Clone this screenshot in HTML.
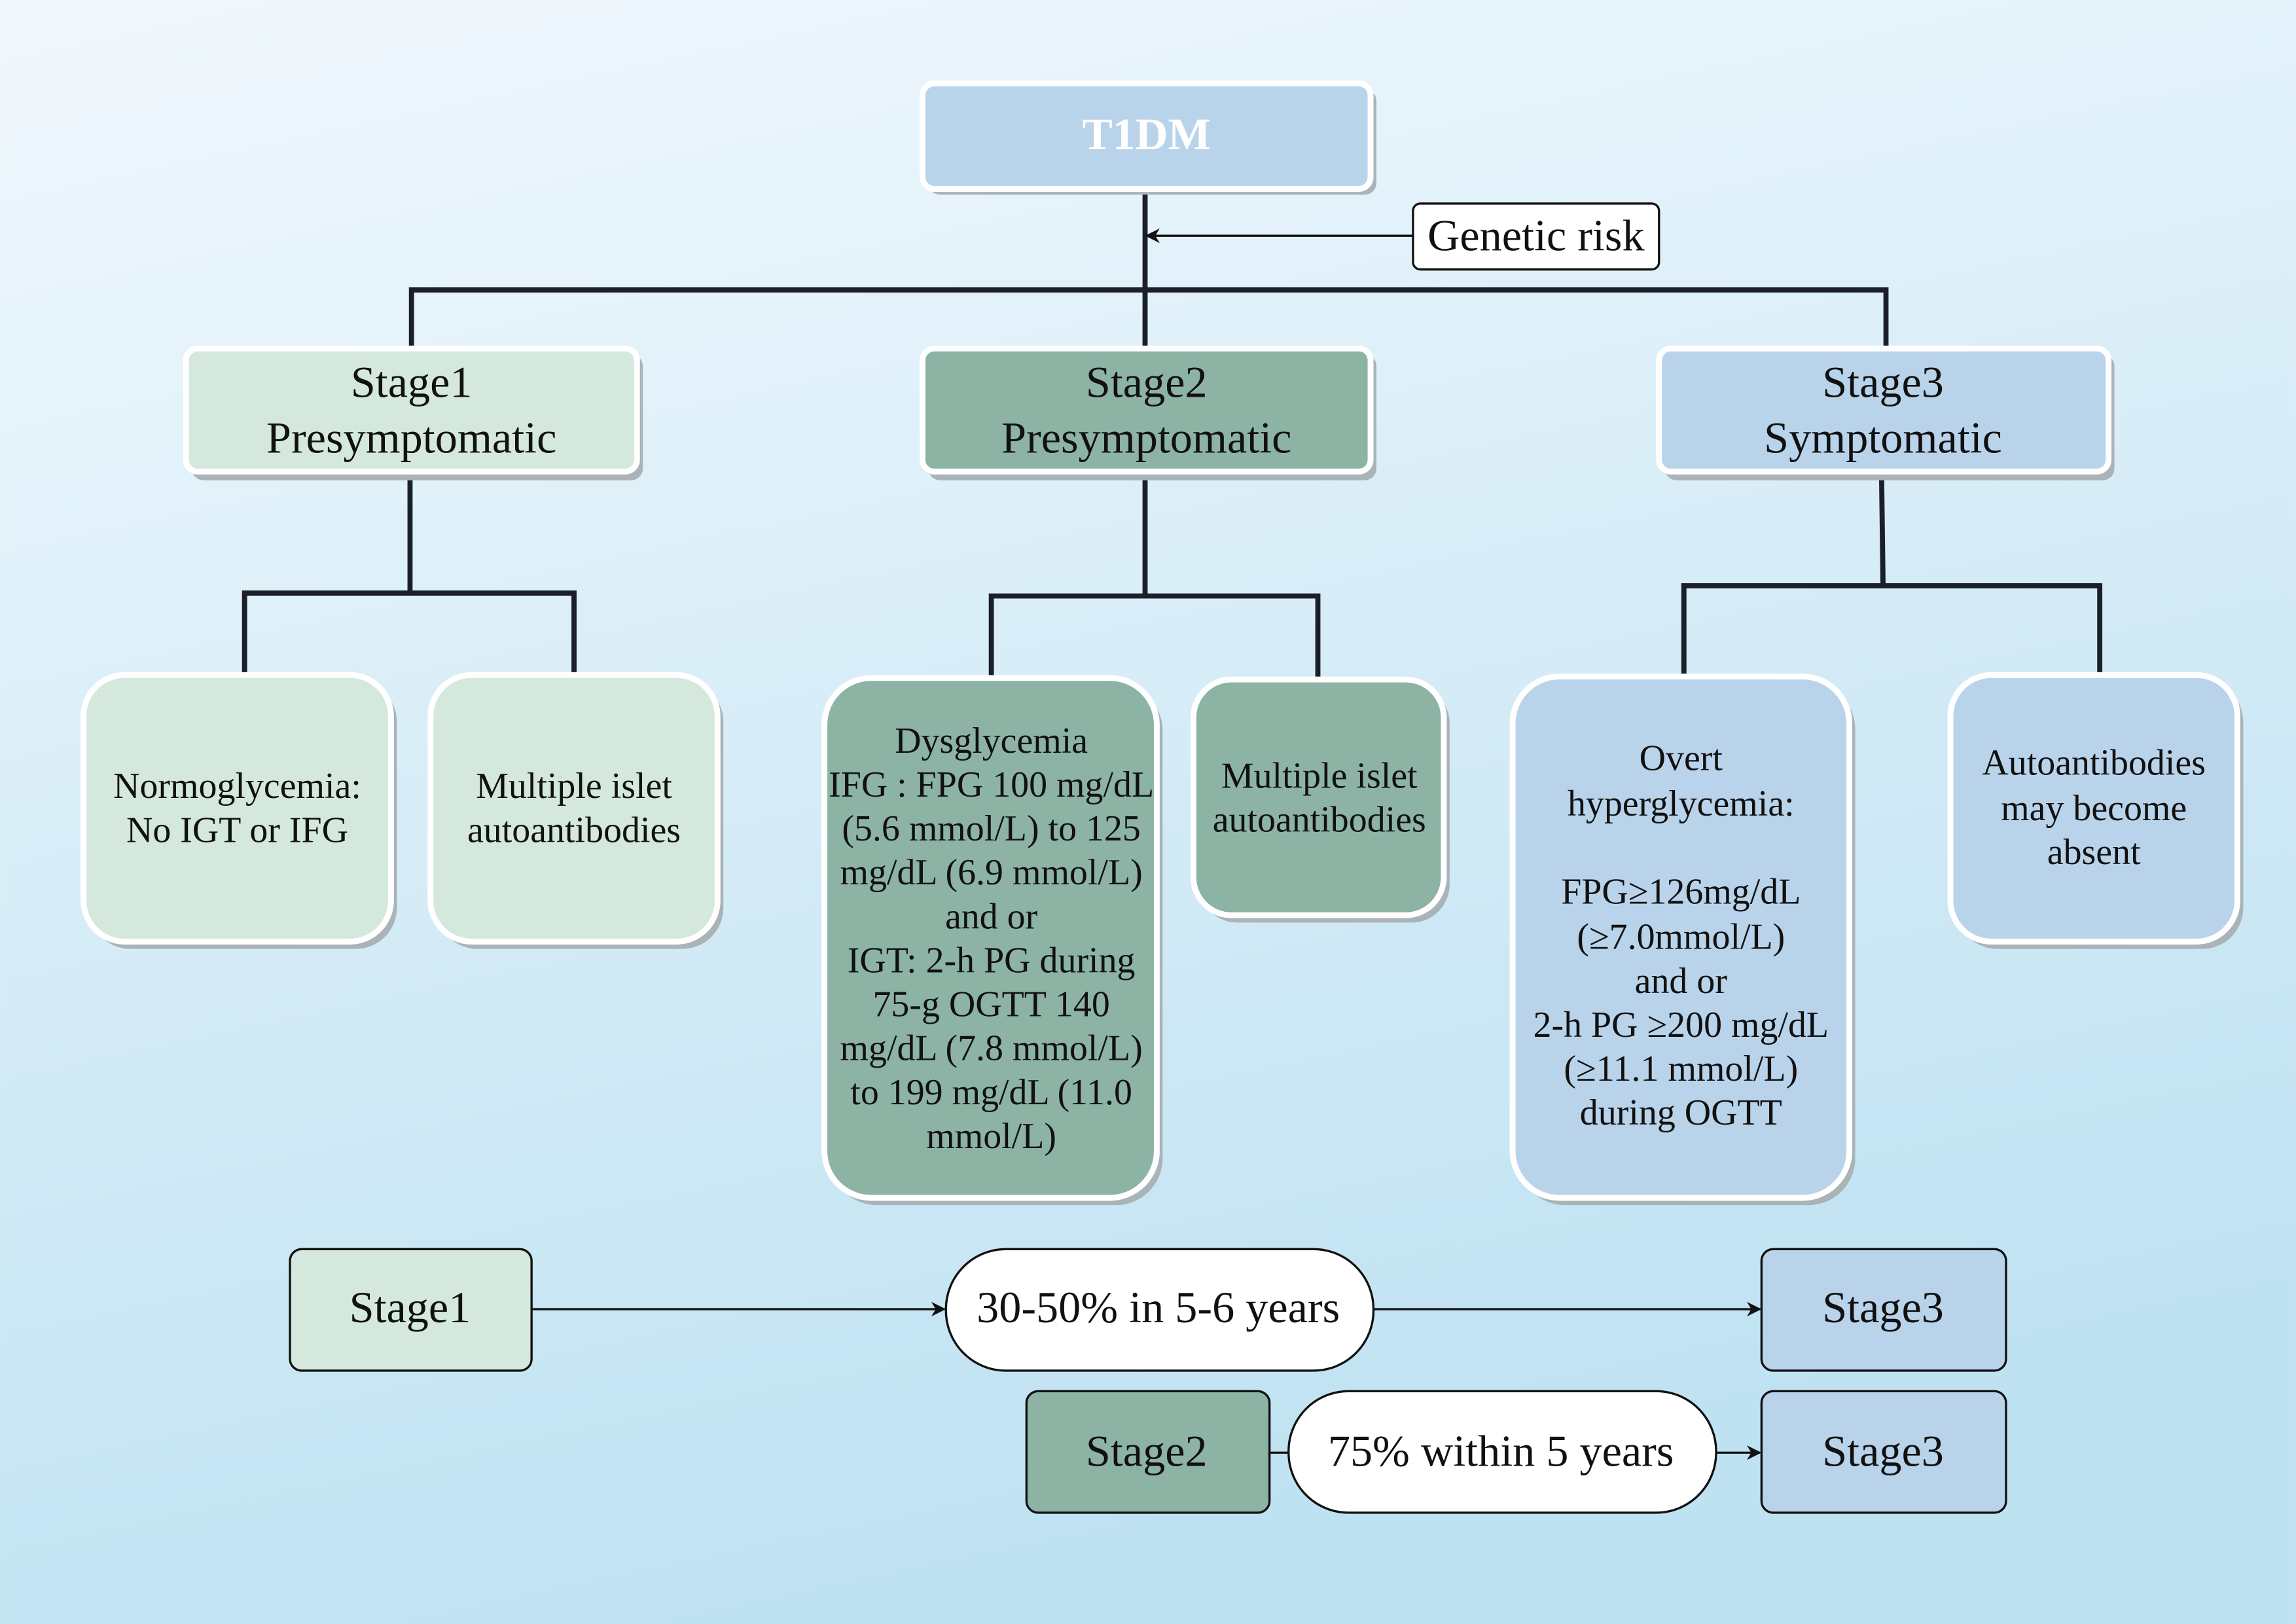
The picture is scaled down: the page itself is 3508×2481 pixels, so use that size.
<!DOCTYPE html>
<html><head><meta charset="utf-8"><style>
html,body{margin:0;padding:0;width:3508px;height:2481px;overflow:hidden}
svg{display:block}
text{font-family:"Liberation Serif",serif;fill:#111;text-anchor:middle}
</style></head><body>
<svg width="3508" height="2481" viewBox="0 0 1568 1109" xmlns="http://www.w3.org/2000/svg">
<defs>
<linearGradient id="bg" x1="0" y1="0" x2="0.3" y2="1">
<stop offset="0" stop-color="#f1f8fd"/><stop offset="1" stop-color="#bfe2f2"/></linearGradient>
<marker id="ar" markerWidth="10" markerHeight="10" refX="9" refY="5" orient="auto" markerUnits="userSpaceOnUse">
<path d="M0,0 L10,5 L0,10 L3,5 z" fill="#111"/></marker>
</defs>
<rect width="1568" height="1109" fill="url(#bg)"/>
<g stroke="#1a1f2a" stroke-width="3.5" fill="none">
<path d="M782,128 V238 M281,238 V198 H1288 V238"/>
<path d="M280,324 V405 M167,462 V405 H392 V462"/>
<path d="M782,324 V407 M677,465 V407 H900 V465"/>
<path d="M1285,324 L1286,400 M1150,460 V400 H1434 V460"/>
</g>
<line x1="965" y1="161" x2="783" y2="161" stroke="#111" stroke-width="1.5" marker-end="url(#ar)"/>
<g stroke="#fff" stroke-width="4">
<rect x="634" y="61" width="306" height="72" rx="8" fill="#a9b3b8" stroke="none"/>
<rect x="630" y="57" width="306" height="72" rx="8" fill="#b9d4ea"/>
<rect x="131" y="242" width="308" height="86" rx="8" fill="#a9b3b8" stroke="none"/>
<rect x="127" y="238" width="308" height="84" rx="8" fill="#d4e8de"/>
<rect x="634" y="242" width="306" height="86" rx="8" fill="#a9b3b8" stroke="none"/>
<rect x="630" y="238" width="306" height="84" rx="8" fill="#8db3a5"/>
<rect x="1137" y="242" width="307" height="86" rx="8" fill="#a9b3b8" stroke="none"/>
<rect x="1133" y="238" width="307" height="84" rx="8" fill="#b9d4ea"/>
<rect x="61" y="465" width="210" height="183" rx="28" fill="#a9b3b8" stroke="none"/>
<rect x="57" y="461" width="210" height="182" rx="28" fill="#d4e8de"/>
<rect x="298" y="465" width="196" height="183" rx="28" fill="#a9b3b8" stroke="none"/>
<rect x="294" y="461" width="196" height="182" rx="28" fill="#d4e8de"/>
<rect x="567" y="467" width="227" height="356" rx="32" fill="#a9b3b8" stroke="none"/>
<rect x="563" y="463" width="227" height="355" rx="32" fill="#8db3a5"/>
<rect x="819" y="468" width="171" height="162" rx="26" fill="#a9b3b8" stroke="none"/>
<rect x="815" y="464" width="171" height="161" rx="26" fill="#8db3a5"/>
<rect x="1037" y="466" width="230" height="357" rx="32" fill="#a9b3b8" stroke="none"/>
<rect x="1033" y="462" width="230" height="356" rx="32" fill="#b9d4ea"/>
<rect x="1336" y="465" width="196" height="183" rx="28" fill="#a9b3b8" stroke="none"/>
<rect x="1332" y="461" width="196" height="182" rx="28" fill="#b9d4ea"/>
</g>
<g stroke="#111" stroke-width="1.5">
<rect x="965" y="139" width="168" height="45" rx="5" fill="#fff"/>
<rect x="198" y="853" width="165" height="83" rx="8" fill="#d4e8de"/>
<rect x="646" y="853" width="292" height="83" rx="41" fill="#fff"/>
<rect x="1203" y="853" width="167" height="83" rx="8" fill="#b9d4ea"/>
<rect x="701" y="950" width="166" height="83" rx="8" fill="#8db3a5"/>
<rect x="880" y="950" width="292" height="83" rx="41" fill="#fff"/>
<rect x="1203" y="950" width="167" height="83" rx="8" fill="#b9d4ea"/>
</g>
<g stroke="#111" stroke-width="1.5">
<line x1="363" y1="894" x2="645" y2="894" marker-end="url(#ar)"/>
<line x1="938" y1="894" x2="1202" y2="894" marker-end="url(#ar)"/>
<line x1="867" y1="992" x2="880" y2="992"/>
<line x1="1172" y1="992" x2="1202" y2="992" marker-end="url(#ar)"/>
</g>
<text x="783" y="102" font-size="31" font-weight="bold" style="fill:#fff">T1DM</text>
<text x="1049" y="171" font-size="30.5">Genetic risk</text>
<g font-size="30.5">
<text x="281" y="271">Stage1</text><text x="281" y="309">Presymptomatic</text>
<text x="783" y="271">Stage2</text><text x="783" y="309">Presymptomatic</text>
<text x="1286" y="271">Stage3</text><text x="1286" y="309">Symptomatic</text>
<text x="280" y="903">Stage1</text>
<text x="791" y="903">30-50% in 5-6 years</text>
<text x="1286" y="903">Stage3</text>
<text x="783" y="1001">Stage2</text>
<text x="1025" y="1001">75% within 5 years</text>
<text x="1286" y="1001">Stage3</text>
</g>
<g font-size="25">
<text x="162" y="545">Normoglycemia:</text><text x="162" y="575">No IGT or IFG</text>
<text x="392" y="545">Multiple islet</text><text x="392" y="575">autoantibodies</text>
<text x="677" y="514">Dysglycemia</text>
<text x="677" y="544">IFG : FPG 100 mg/dL</text>
<text x="677" y="574">(5.6 mmol/L) to 125</text>
<text x="677" y="604">mg/dL (6.9 mmol/L)</text>
<text x="677" y="634">and or</text>
<text x="677" y="664">IGT: 2-h PG during</text>
<text x="677" y="694">75-g OGTT 140</text>
<text x="677" y="724">mg/dL (7.8 mmol/L)</text>
<text x="677" y="754">to 199 mg/dL (11.0</text>
<text x="677" y="784">mmol/L)</text>
<text x="901" y="538">Multiple islet</text><text x="901" y="568">autoantibodies</text>
<text x="1148" y="526">Overt</text>
<text x="1148" y="557">hyperglycemia:</text>
<text x="1148" y="617">FPG≥126mg/dL</text>
<text x="1148" y="648">(≥7.0mmol/L)</text>
<text x="1148" y="678">and or</text>
<text x="1148" y="708">2-h PG ≥200 mg/dL</text>
<text x="1148" y="738">(≥11.1 mmol/L)</text>
<text x="1148" y="768">during OGTT</text>
<text x="1430" y="529">Autoantibodies</text>
<text x="1430" y="560">may become</text>
<text x="1430" y="590">absent</text>
</g>
</svg>
</body></html>
